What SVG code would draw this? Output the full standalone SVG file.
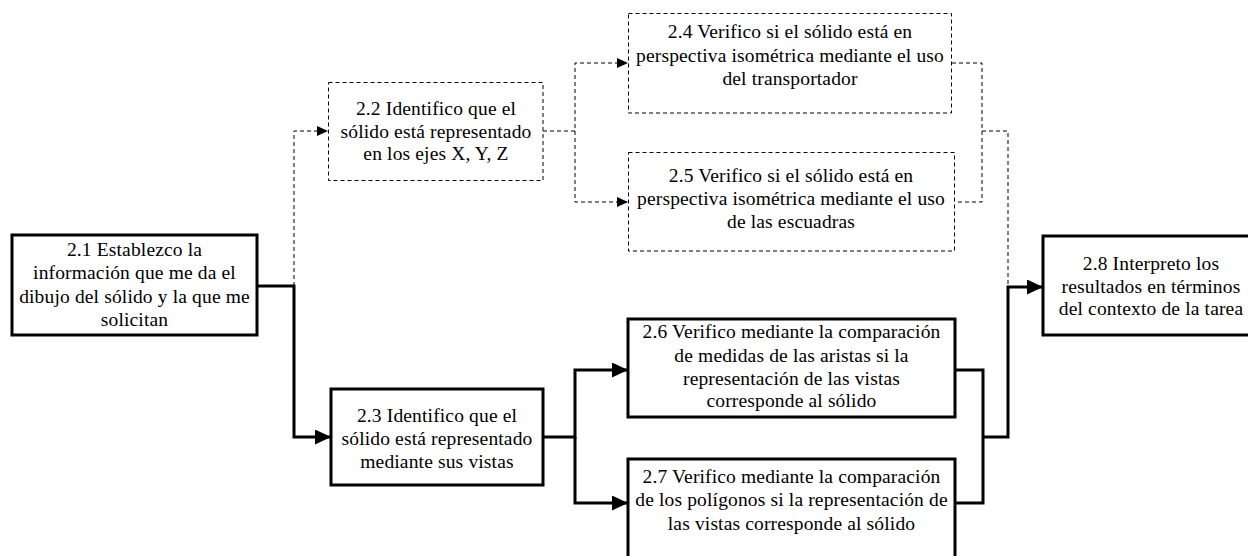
<svg xmlns="http://www.w3.org/2000/svg" width="1248" height="556" viewBox="0 0 1248 556">
  <style>
    .solid { fill: #ffffff; stroke: #000000; stroke-width: 3; }
    .dash { fill: #ffffff; stroke: #000000; stroke-width: 1; stroke-dasharray: 4 3; }
    .wire { fill: none; stroke: #000000; stroke-width: 3; }
    .wire-d { fill: none; stroke: #000000; stroke-width: 1; stroke-dasharray: 4 3; }
    .lbl { font-size: 19.5px; letter-spacing: 0.15px; fill: #000000; text-anchor: middle; }
  </style>
  <defs>
    <marker id="arrow-solid" markerUnits="userSpaceOnUse" markerWidth="17" markerHeight="15" refX="16" refY="7.5" orient="auto">
      <path d="M0,0 L16,7.5 L0,15 Z" fill="#000000"/>
    </marker>
    <marker id="arrow-dash" markerUnits="userSpaceOnUse" markerWidth="12" markerHeight="11" refX="11" refY="5" orient="auto">
      <path d="M0,0 L11,5 L0,10 Z" fill="#000000"/>
    </marker>
  </defs>
  <rect width="1248" height="556" fill="#ffffff"/>

  <g id="connectors">
    <!-- dashed branch -->
    <path class="wire-d" d="M294,286 V131 H328" marker-end="url(#arrow-dash)"/>
    <path class="wire-d" d="M543,131 H575 V63 H628" marker-end="url(#arrow-dash)"/>
    <path class="wire-d" d="M575,131 V202 H628" marker-end="url(#arrow-dash)"/>
    <path class="wire-d" d="M952,63 H982 V202 H955"/>
    <path class="wire-d" d="M982,131 H1008 V285"/>
    <!-- solid branch -->
    <path class="wire" d="M257,286 H294 V437 H331" marker-end="url(#arrow-solid)"/>
    <path class="wire" d="M543,437 H575 V370 H628" marker-end="url(#arrow-solid)"/>
    <path class="wire" d="M575,437 V503 H628" marker-end="url(#arrow-solid)"/>
    <path class="wire" d="M955,370 H983 V503 H955"/>
    <path class="wire" d="M983,437 H1008 V287 H1043" marker-end="url(#arrow-solid)"/>
  </g>

  <g font-family="'Liberation Serif', 'DejaVu Serif', 'Times New Roman', serif">
  <g id="n21">
    <rect class="solid" x="12" y="235" width="245" height="100"/>
    <text class="lbl" x="134.5" y="256">2.1 Establezco la</text>
    <text class="lbl" x="134.5" y="279">información que me da el</text>
    <text class="lbl" x="134.5" y="303">dibujo del sólido y la que me</text>
    <text class="lbl" x="134.5" y="326">solicitan</text>
  </g>

  <g id="n22">
    <rect class="dash" x="328.5" y="82.5" width="214.5" height="98"/>
    <text class="lbl" x="436" y="115">2.2 Identifico que el</text>
    <text class="lbl" x="436" y="138">sólido está representado</text>
    <text class="lbl" x="436" y="160">en los ejes X, Y, Z</text>
  </g>

  <g id="n24">
    <rect class="dash" x="628.5" y="13.5" width="323" height="99.5"/>
    <text class="lbl" x="790" y="38">2.4 Verifico si el sólido está en</text>
    <text class="lbl" x="790" y="62">perspectiva isométrica mediante el uso</text>
    <text class="lbl" x="790" y="85">del transportador</text>
  </g>

  <g id="n25">
    <rect class="dash" x="628.5" y="152.5" width="326" height="98.5"/>
    <text class="lbl" x="791" y="182">2.5 Verifico si el sólido está en</text>
    <text class="lbl" x="791" y="205">perspectiva isométrica mediante el uso</text>
    <text class="lbl" x="791" y="228">de las escuadras</text>
  </g>

  <g id="n23">
    <rect class="solid" x="331" y="389" width="212" height="96"/>
    <text class="lbl" x="437" y="422">2.3 Identifico que el</text>
    <text class="lbl" x="437" y="445">sólido está representado</text>
    <text class="lbl" x="437" y="468">mediante sus vistas</text>
  </g>

  <g id="n26">
    <rect class="solid" x="628" y="319" width="327" height="98"/>
    <text class="lbl" x="791.5" y="338">2.6 Verifico mediante la comparación</text>
    <text class="lbl" x="791.5" y="362">de medidas de las aristas si la</text>
    <text class="lbl" x="791.5" y="385">representación de las vistas</text>
    <text class="lbl" x="791.5" y="407">corresponde al sólido</text>
  </g>

  <g id="n27">
    <rect class="solid" x="628" y="459" width="327" height="102"/>
    <text class="lbl" x="791.5" y="483">2.7 Verifico mediante la comparación</text>
    <text class="lbl" x="791.5" y="506">de los polígonos si la representación de</text>
    <text class="lbl" x="791.5" y="530">las vistas corresponde al sólido</text>
  </g>

  <g id="n28">
    <rect class="solid" x="1043" y="236" width="220" height="99"/>
    <text class="lbl" x="1151" y="270">2.8 Interpreto los</text>
    <text class="lbl" x="1151" y="293">resultados en términos</text>
    <text class="lbl" x="1151" y="315">del contexto de la tarea</text>
  </g>
  </g>
</svg>
